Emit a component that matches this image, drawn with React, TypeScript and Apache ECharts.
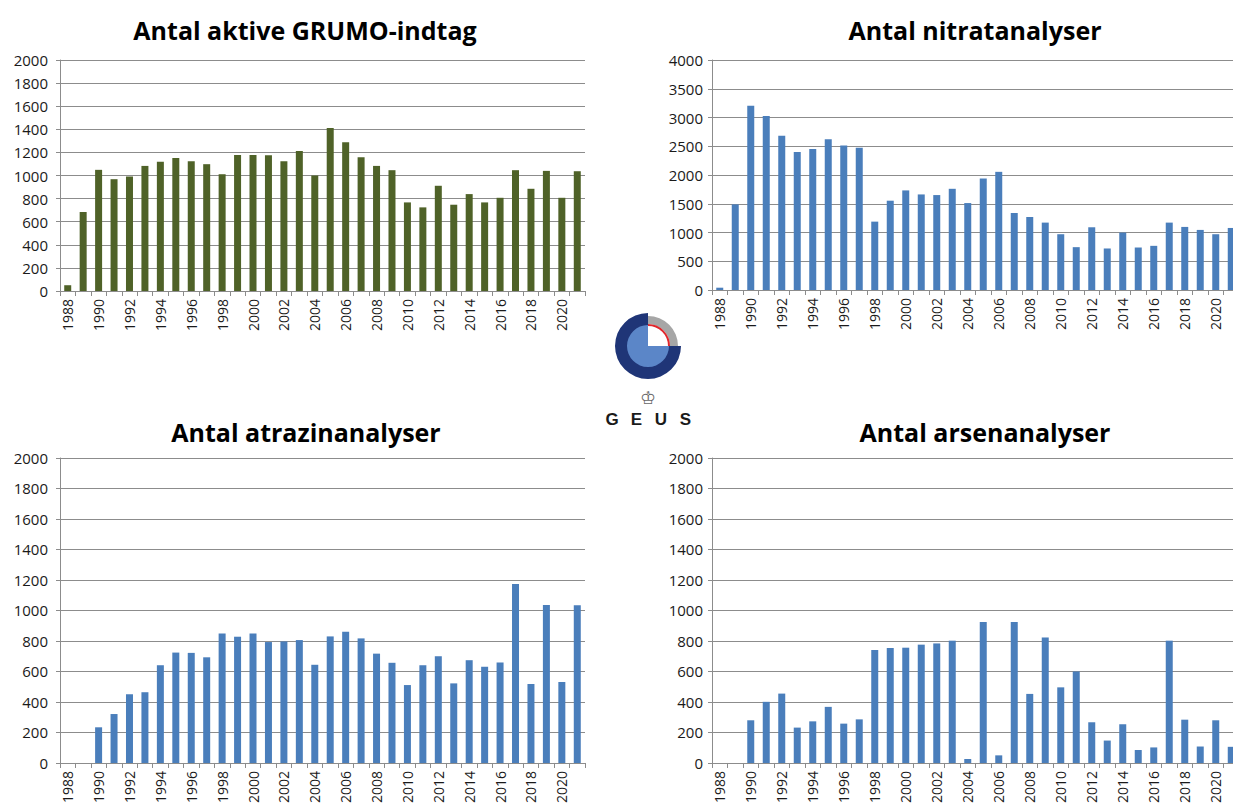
import React, { useEffect, useRef } from "react";
import * as echarts from "echarts";

const years = [
  "1988", "1989", "1990", "1991", "1992", "1993", "1994", "1995", "1996", "1997",
  "1998", "1999", "2000", "2001", "2002", "2003", "2004", "2005", "2006", "2007",
  "2008", "2009", "2010", "2011", "2012", "2013", "2014", "2015", "2016", "2017",
  "2018", "2019", "2020", "2021",
];

const titles = [
  "Antal aktive GRUMO-indtag",
  "Antal nitratanalyser",
  "Antal atrazinanalyser",
  "Antal arsenanalyser",
];

const grumo = [
  50, 684, 1049, 968, 991, 1083, 1118, 1152, 1124, 1098,
  1011, 1178, 1178, 1175, 1124, 1213, 1000, 1411, 1287, 1158,
  1083, 1046, 767, 724, 911, 747, 839, 767, 807, 1046,
  885, 1040, 807, 1037,
];

const nitrat = [
  40, 1489, 3203, 3024, 2684, 2401, 2453, 2620, 2511, 2476,
  1189, 1553, 1732, 1662, 1651, 1760, 1512, 1939, 2055, 1339,
  1270, 1172, 970, 745, 1091, 722, 999, 739, 768, 1172,
  1097, 1045, 970, 1079,
];

const atrazin = [
  0, 0, 234, 321, 451, 464, 641, 724, 722, 693,
  849, 828, 849, 793, 797, 806, 644, 830, 860, 817,
  717, 657, 511, 641, 700, 522, 674, 631, 659, 1174,
  518, 1036, 531, 1034,
];

const arsen = [
  0, 0, 280, 401, 455, 232, 273, 368, 258, 286,
  741, 754, 756, 776, 784, 802, 26, 925, 50, 925,
  453, 823, 496, 600, 267, 147, 254, 85, 102, 802,
  284, 108, 280, 106,
];

const yMax = [2000, 4000, 2000, 2000];
const yStep = [200, 500, 200, 200];

const GREEN = "#4f6228";
const BLUE = "#4a7ebb";
const GRID_COLOR = "#8c8c8c";
const FONT = "'Open Sans', 'DejaVu Sans', sans-serif";

export default function App() {
  const ref = useRef<HTMLDivElement>(null);

  useEffect(() => {
    if (!ref.current) return;
    const chart = echarts.init(ref.current, undefined, { renderer: "svg" });

    const grids = [
      { left: 60, top: 60, width: 525, height: 231 },
      { left: 712, top: 60, width: 527, height: 230 },
      { left: 60, top: 458, width: 525, height: 310 },
      { left: 712, top: 458, width: 527, height: 308 },
    ];
    const seriesData = [grumo, nitrat, atrazin, arsen];
    const colors = [GREEN, BLUE, BLUE, BLUE];
    const titlePos = [
      [305, 30],
      [975, 30],
      [306, 432],
      [985, 432],
    ];

    const option: any = {
      animation: false,
      backgroundColor: "#ffffff",
      grid: grids.map((g) => ({ ...g, containLabel: false })),
      xAxis: grids.map((_, i) => ({
        type: "category",
        gridIndex: i,
        data: years,
        boundaryGap: true,
        axisLine: { show: true, lineStyle: { color: GRID_COLOR, width: 1 } },
        axisTick: {
          show: true,
          interval: 0,
          alignWithLabel: false,
          length: 5,
          lineStyle: { color: GRID_COLOR },
        },
        axisLabel: {
          interval: 1,
          rotate: 90,
          margin: 8,
          color: "#1a1a1a",
          fontSize: 14,
          fontFamily: FONT,
        },
        splitLine: { show: false },
      })),
      yAxis: grids.map((_, i) => ({
        type: "value",
        gridIndex: i,
        min: 0,
        max: yMax[i],
        interval: yStep[i],
        axisLine: { show: true, lineStyle: { color: GRID_COLOR, width: 1 } },
        axisTick: { show: true, length: 4, lineStyle: { color: GRID_COLOR } },
        axisLabel: {
          margin: i % 2 === 0 ? 12 : 9,
          color: "#1a1a1a",
          fontSize: 15,
          fontFamily: FONT,
          formatter: (v: number) => String(v),
        },
        splitLine: { show: true, lineStyle: { color: GRID_COLOR, width: 1 } },
      })),
      series: seriesData.map((d, i) => ({
        type: "bar",
        xAxisIndex: i,
        yAxisIndex: i,
        data: d,
        barWidth: 7,
        itemStyle: { color: colors[i] },
      })),
      graphic: [
        ...titles.map((t, i) => ({
          type: "text",
          x: titlePos[i][0],
          y: titlePos[i][1],
          style: {
            text: t,
            align: "center",
            verticalAlign: "middle",
            fontSize: 25,
            fontWeight: "bold",
            fontFamily: FONT,
            fill: "#000",
          },
        })),
        // GEUS logo
        {
          type: "sector",
          shape: { cx: 648, cy: 346, r0: 0, r: 33, startAngle: 0, endAngle: Math.PI * 1.5, clockwise: true },
          style: { fill: "#1f3577" },
        },
        {
          type: "sector",
          shape: { cx: 648, cy: 346, r0: 0, r: 21, startAngle: 0, endAngle: Math.PI * 1.5, clockwise: true },
          style: { fill: "#5b86c8" },
        },
        {
          type: "sector",
          shape: { cx: 648, cy: 346, r0: 22, r: 30, startAngle: -Math.PI / 2, endAngle: 0, clockwise: true },
          style: { fill: "#a6a6a6" },
        },
        {
          type: "arc",
          shape: { cx: 648, cy: 346, r: 21, startAngle: -Math.PI / 2, endAngle: 0, clockwise: true },
          style: { stroke: "#e0262b", lineWidth: 2, fill: "none" },
        },
        {
          type: "text",
          x: 648,
          y: 397,
          style: { text: "♔", align: "center", verticalAlign: "middle", fontSize: 18, fill: "#666", fontFamily: "'DejaVu Sans'" },
        },
        ...["G", "E", "U", "S"].map((ch, i) => ({
          type: "text",
          x: 612 + i * 24.5,
          y: 419,
          style: {
            text: ch,
            align: "center",
            verticalAlign: "middle",
            fontSize: 17,
            fontWeight: "bold",
            fontFamily: "'Liberation Sans', Arial, sans-serif",
            fill: "#1a1a1a",
          },
        })),
      ],
    };

    chart.setOption(option);
    return () => chart.dispose();
  }, []);

  return (
    <div
      style={{
        position: "fixed",
        left: 0,
        top: 0,
        width: 1233,
        height: 806,
        overflow: "hidden",
        background: "#fff",
      }}
    >
      <div ref={ref} style={{ width: 1260, height: 806 }} />
    </div>
  );
}
